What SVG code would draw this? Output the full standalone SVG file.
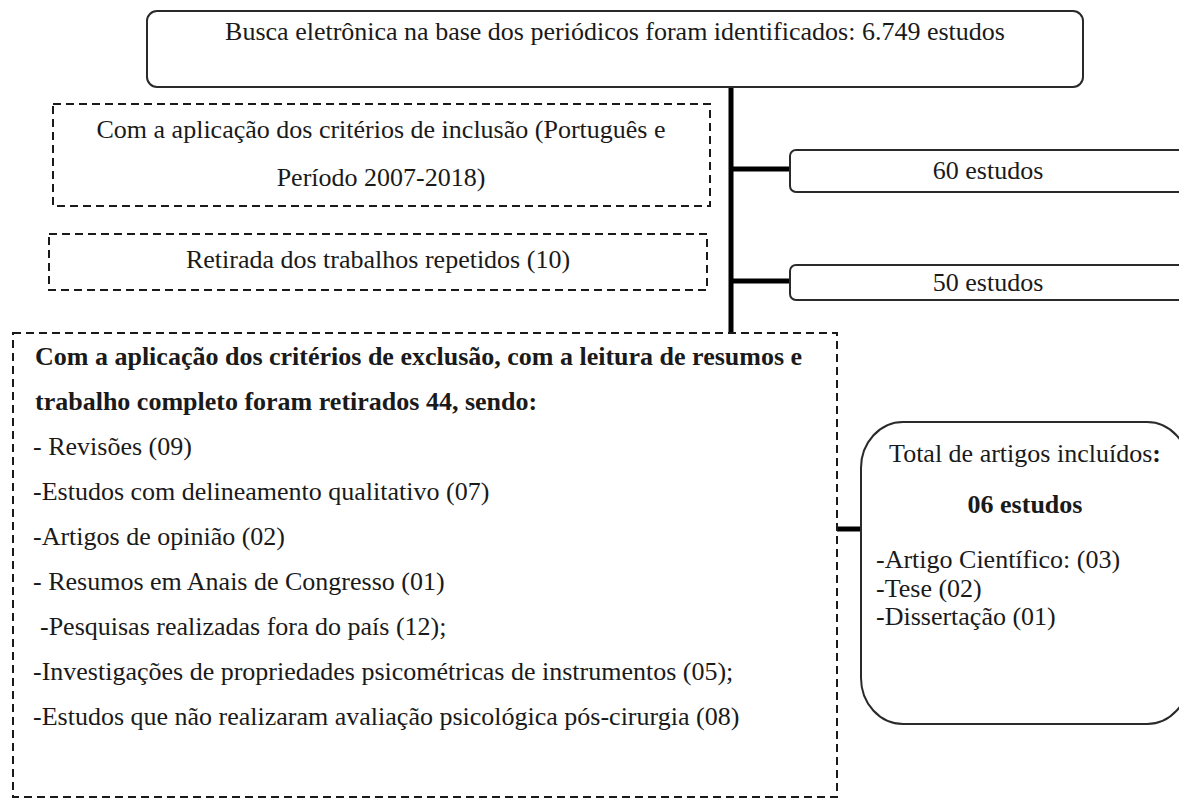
<svg xmlns="http://www.w3.org/2000/svg" width="1179" height="799" viewBox="0 0 1179 799">
<style>
text{font-family:"Liberation Serif","Times New Roman",serif;font-size:26px;fill:#1a1a1a}
.b{font-weight:bold}
.c{text-anchor:middle}
.solid{fill:#fff;stroke:#2a2a2a;stroke-width:2}
.dash{fill:#fff;stroke:#1a1a1a;stroke-width:2;stroke-dasharray:8 5}
.conn{stroke:#000;stroke-width:5;fill:none}
</style>
<rect width="1179" height="799" fill="#fff"/>
<g id="connectors">
<line class="conn" x1="731" y1="86" x2="731" y2="334"/>
<line class="conn" x1="731" y1="169" x2="791" y2="169"/>
<line class="conn" x1="731" y1="281" x2="791" y2="281"/>
<line class="conn" x1="837" y1="529" x2="862" y2="529"/>
</g>
<g id="busca">
<rect class="solid" x="147" y="11" width="936" height="76" rx="10"/>
<text class="c" x="615" y="40">Busca eletrônica na base dos periódicos foram identificados: 6.749 estudos</text>
</g>
<g id="inclusao">
<rect class="dash" x="53" y="104" width="657" height="102"/>
<text class="c" x="381" y="138">Com a aplicação dos critérios de inclusão (Português e</text>
<text class="c" x="381" y="186">Período 2007-2018)</text>
</g>
<g id="repetidos">
<rect class="dash" x="49" y="234" width="658" height="56"/>
<text class="c" x="378" y="268">Retirada dos trabalhos repetidos (10)</text>
</g>
<g id="n60">
<rect class="solid" x="790" y="150" width="396" height="42" rx="6"/>
<text class="c" x="988" y="179">60 estudos</text>
</g>
<g id="n50">
<rect class="solid" x="790" y="265" width="396" height="35" rx="6"/>
<text class="c" x="988" y="291">50 estudos</text>
</g>
<g id="exclusao">
<rect class="dash" x="13" y="333" width="824" height="464"/>
<text class="b" x="35" y="365">Com a aplicação dos critérios de exclusão, com a leitura de resumos e</text>
<text class="b" x="35" y="410">trabalho completo foram retirados 44, sendo:</text>
<text x="33" y="455">- Revisões (09)</text>
<text x="33" y="500">-Estudos com delineamento qualitativo (07)</text>
<text x="33" y="545">-Artigos de opinião (02)</text>
<text x="33" y="590">- Resumos em Anais de Congresso (01)</text>
<text x="40" y="635">-Pesquisas realizadas fora do país (12);</text>
<text x="33" y="680">-Investigações de propriedades psicométricas de instrumentos (05);</text>
<text x="33" y="725">-Estudos que não realizaram avaliação psicológica pós-cirurgia (08)</text>
</g>
<g id="total">
<rect class="solid" x="861" y="422" width="328" height="302" rx="42" ry="46"/>
<text class="c" x="1025" y="462">Total de artigos incluídos<tspan class="b">:</tspan></text>
<text class="c b" x="1025" y="513">06 estudos</text>
<text x="876" y="568">-Artigo Científico: (03)</text>
<text x="876" y="597">-Tese (02)</text>
<text x="876" y="625">-Dissertação (01)</text>
</g>
</svg>
